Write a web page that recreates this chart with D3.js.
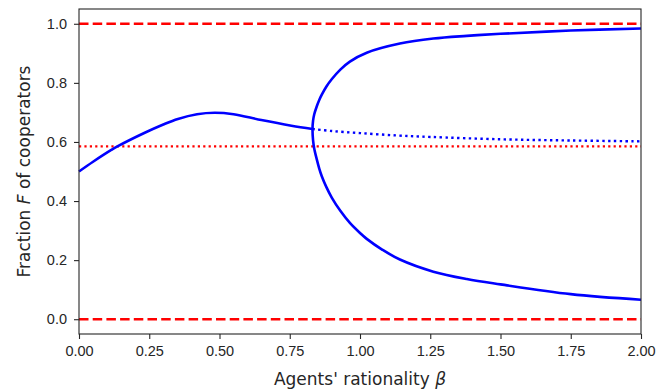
<!DOCTYPE html>
<html>
<head>
<meta charset="utf-8">
<script src="https://cdn.jsdelivr.net/npm/d3@7"></script>
<style>
  html, body { margin: 0; padding: 0; background: #fff; }
  svg { display: block; font-family: "DejaVu Sans", sans-serif; }
  .tick text { fill: #262626; font-size: 14.5px; }
  .tick line { stroke: #262626; stroke-width: 1.1; }
  .domain { display: none; }
</style>
</head>
<body>
<svg id="chart" width="670" height="391"></svg>
<script>
// Stationary fraction of cooperators vs. agents' rationality beta

// Branch below the bifurcation (single stable state)
const lowBeta  = [0.000, 0.050, 0.115, 0.135, 0.234, 0.300, 0.352, 0.420, 0.483, 0.550, 0.649, 0.756, 0.831];
const lowF     = [0.500, 0.533, 0.573, 0.584, 0.631, 0.659, 0.678, 0.694, 0.699, 0.694, 0.674, 0.655, 0.644];

// Upper stable branch (from beta = 2 back to the bifurcation point)
const upperBeta = [2.000, 1.750, 1.500, 1.380, 1.261, 1.142, 1.024, 0.964, 0.930, 0.900, 0.880, 0.864, 0.855, 0.846, 0.837, 0.833, 0.831];
const upperF    = [0.984, 0.977, 0.966, 0.959, 0.950, 0.933, 0.902, 0.872, 0.845, 0.813, 0.787, 0.760, 0.742, 0.720, 0.693, 0.672, 0.644];

// Lower stable branch (from the bifurcation point out to beta = 2)
const lowerBeta = [0.833, 0.837, 0.846, 0.855, 0.864, 0.880, 0.900, 0.930, 0.964, 1.000, 1.024, 1.080, 1.142, 1.261, 1.380, 1.500, 1.750, 2.000];
const lowerF    = [0.605, 0.578, 0.542, 0.510, 0.484, 0.448, 0.411, 0.367, 0.326, 0.292, 0.272, 0.235, 0.202, 0.161, 0.136, 0.118, 0.085, 0.066];

// Unstable middle branch
const midBeta = [0.831, 0.900, 1.000, 1.131, 1.250, 1.500, 1.750, 2.000];
const midF    = [0.644, 0.637, 0.630, 0.622, 0.617, 0.609, 0.605, 0.602];

// Horizontal reference levels
const boundLevels = [0, 1];
const thresholdLevels = [0.585];

// Axis ticks
const xTicks = [0, 0.25, 0.5, 0.75, 1.0, 1.25, 1.5, 1.75, 2.0];
const yTicks = [0, 0.2, 0.4, 0.6, 0.8, 1.0];

const svg = d3.select("#chart");
const margin = { left: 79, right: 29, top: 9, bottom: 57 };
const W = 670, H = 391;
const x = d3.scaleLinear().domain([0, 2]).range([margin.left, W - margin.right]);
const y = d3.scaleLinear().domain([-0.05, 1.05]).range([H - margin.bottom, margin.top]);

const zip = (a, b) => a.map((v, i) => [v, b[i]]);
const line = d3.line().x(d => x(d[0])).y(d => y(d[1])).curve(d3.curveCatmullRom.alpha(0.5));

const plot = svg.append("g");

// Red reference lines
plot.selectAll(".bound").data(boundLevels).join("line")
  .attr("x1", x(0)).attr("x2", x(2))
  .attr("y1", d => y(d)).attr("y2", d => y(d))
  .attr("stroke", "#ff0000").attr("stroke-width", 2.6)
  .attr("stroke-dasharray", "9.5,4.2");

plot.selectAll(".thresh").data(thresholdLevels).join("line")
  .attr("x1", x(0)).attr("x2", x(2))
  .attr("y1", d => y(d)).attr("y2", d => y(d))
  .attr("stroke", "#ff0000").attr("stroke-width", 2.2)
  .attr("stroke-dasharray", "2.2,3.2");

// Blue branches
plot.append("path").datum(zip(midBeta, midF))
  .attr("d", line).attr("fill", "none")
  .attr("stroke", "#0000ff").attr("stroke-width", 2.4)
  .attr("stroke-dasharray", "2.4,3.4");

plot.append("path").datum(zip(lowBeta, lowF))
  .attr("d", line).attr("fill", "none")
  .attr("stroke", "#0000ff").attr("stroke-width", 2.6)
  .attr("stroke-linejoin", "round");

plot.append("path").datum(zip(upperBeta, upperF).concat(zip(lowerBeta, lowerF)))
  .attr("d", line).attr("fill", "none")
  .attr("stroke", "#0000ff").attr("stroke-width", 2.6)
  .attr("stroke-linejoin", "round");

// Frame
svg.append("rect")
  .attr("x", margin.left).attr("y", margin.top)
  .attr("width", W - margin.left - margin.right)
  .attr("height", H - margin.top - margin.bottom)
  .attr("fill", "none").attr("stroke", "#262626").attr("stroke-width", 1.1);

// Axes
svg.append("g")
  .attr("transform", `translate(0,${H - margin.bottom})`)
  .call(d3.axisBottom(x).tickValues(xTicks).tickFormat(d3.format(".2f")).tickSize(5).tickSizeOuter(0).tickPadding(7));

svg.append("g")
  .attr("transform", `translate(${margin.left},0)`)
  .call(d3.axisLeft(y).tickValues(yTicks).tickFormat(d3.format(".1f")).tickSize(5).tickSizeOuter(0).tickPadding(7));

// Axis titles
const xl = svg.append("text")
  .attr("x", (x(0) + x(2)) / 2).attr("y", 385)
  .attr("text-anchor", "middle").attr("font-size", 17).attr("fill", "#262626");
xl.append("tspan").text("Agents' rationality ");
xl.append("tspan").attr("font-style", "italic").text("β");

const yl = svg.append("text")
  .attr("transform", `translate(30,${(y(-0.05) + y(1.05)) / 2}) rotate(-90)`)
  .attr("text-anchor", "middle").attr("font-size", 17).attr("fill", "#262626");
yl.append("tspan").text("Fraction ");
yl.append("tspan").attr("font-style", "italic").text("F");
yl.append("tspan").text(" of cooperators");
</script>
</body>
</html>
